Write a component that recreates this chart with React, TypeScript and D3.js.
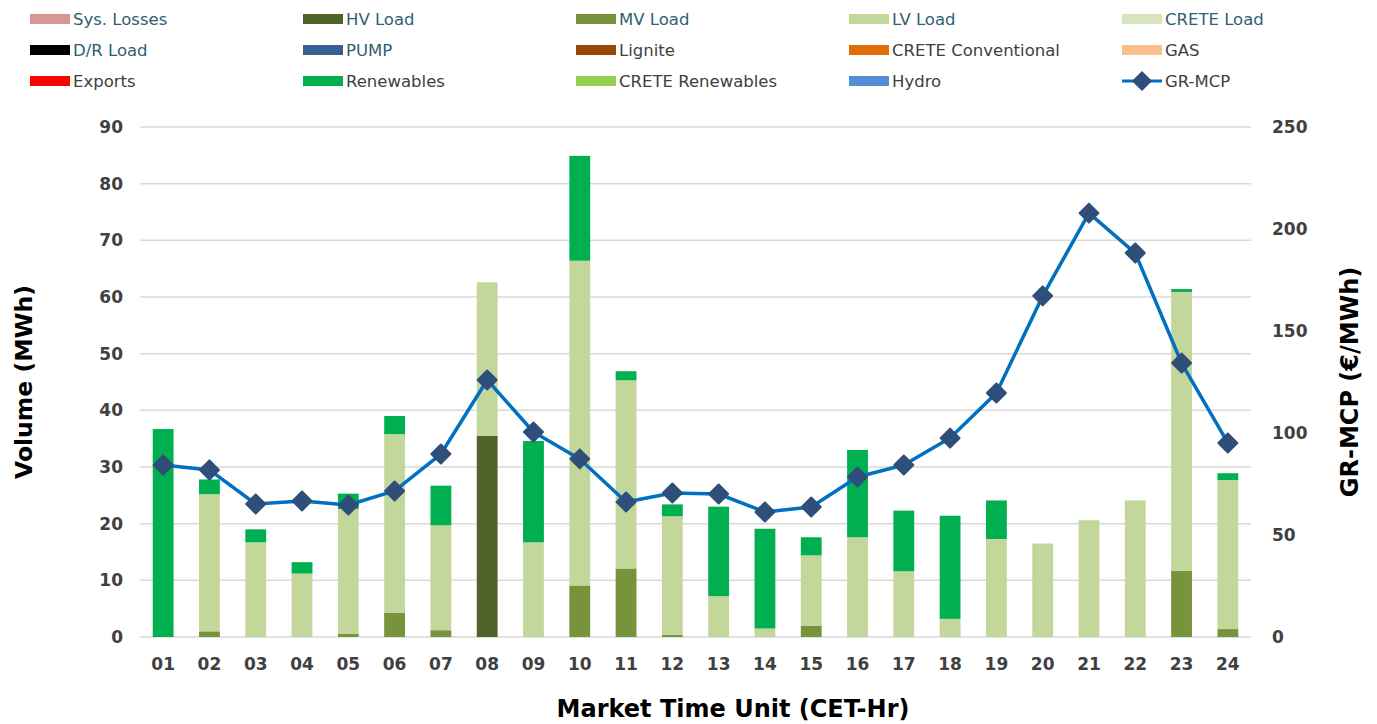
import React from "react";
import * as d3 from "d3";

const hours = ["01","02","03","04","05","06","07","08","09","10","11","12","13","14","15","16","17","18","19","20","21","22","23","24"];
const hvLoad = [0,0,0,0,0,0,0,35.5,0,0,0,0,0,0,0,0,0,0,0,0,0,0,0,0];
const mvLoad = [0,1.0,0,0,0.6,4.3,1.2,0,0,9.1,12.1,0.4,0,0,2.0,0,0,0,0,0,0,0,11.7,1.4];
const lvLoad = [0,24.2,16.7,11.2,22.0,31.5,18.5,27.1,16.7,57.3,33.2,20.9,7.2,1.5,12.4,17.6,11.6,3.2,17.3,16.5,20.6,24.1,49.2,26.3];
const renewables = [36.7,2.6,2.3,2.0,2.7,3.2,7.0,0,17.9,18.5,1.6,2.1,15.8,17.6,3.2,15.4,10.7,18.2,6.8,0,0,0,0.5,1.2];
const grMcp = [84.3,81.9,65.2,66.7,64.7,71.6,89.7,126,100.5,87.3,66.2,70.6,70.1,61.3,63.7,78.4,84.3,97.5,119.6,167.2,207.8,188.2,134.3,95.1];

const leftTicks = [0,10,20,30,40,50,60,70,80,90];
const rightTicks = [0,50,100,150,200,250];

const legendItems = [
  { name: "Sys. Losses", color: "#da9694", load: true },
  { name: "HV Load", color: "#4f6228", load: true },
  { name: "MV Load", color: "#77933c", load: true },
  { name: "LV Load", color: "#c4d79b", load: true },
  { name: "CRETE Load", color: "#d8e4bc", load: true },
  { name: "D/R Load", color: "#000000", load: true },
  { name: "PUMP", color: "#366092", load: true },
  { name: "Lignite", color: "#974706", load: false },
  { name: "CRETE Conventional", color: "#e26b0a", load: false },
  { name: "GAS", color: "#fabf8f", load: false },
  { name: "Exports", color: "#ff0000", load: false },
  { name: "Renewables", color: "#00b050", load: false },
  { name: "CRETE Renewables", color: "#92d050", load: false },
  { name: "Hydro", color: "#558ed5", load: false },
  { name: "GR-MCP", color: "#0070c0", load: false, line: true },
];

const stackSeries = [
  { key: "hv", values: hvLoad, color: "#4f6228" },
  { key: "mv", values: mvLoad, color: "#77933c" },
  { key: "lv", values: lvLoad, color: "#c4d79b" },
  { key: "ren", values: renewables, color: "#00b050" },
];

const FONT = "'DejaVu Sans', sans-serif";

export default function App() {
  const W = 1377, H = 724;
  const left = 140, right = 1251, top = 127, bottom = 637;

  const x = d3.scaleBand().domain(hours).range([left, right]).paddingInner(0.55).paddingOuter(0.275);
  const xc = (h: string) => (x(h) as number) + x.bandwidth() / 2;
  const yL = d3.scaleLinear().domain([0, 90]).range([bottom, top]);
  const yR = d3.scaleLinear().domain([0, 250]).range([bottom, top]);

  const rows = hours.map((h, i) => {
    const r: any = { h };
    stackSeries.forEach(s => (r[s.key] = s.values[i]));
    return r;
  });
  const stacked = d3.stack().keys(stackSeries.map(s => s.key))(rows);

  const line = d3.line<number>().x((_, i) => xc(hours[i])).y(d => yR(d));

  const diamond = (cx: number, cy: number, r: number) =>
    `M${cx},${cy - r}L${cx + r},${cy}L${cx},${cy + r}L${cx - r},${cy}Z`;

  const colX = [30, 303, 576, 849, 1122];
  const rowY = [19, 50, 81];

  return (
    <svg width={W} height={H} style={{ position: "absolute", left: 0, top: 0, background: "#fff" }}>
      {legendItems.map((it, i) => {
        const cx = colX[i % 5];
        const cy = rowY[Math.floor(i / 5)];
        return (
          <g key={it.name}>
            {it.line ? (
              <g>
                <line x1={cx} x2={cx + 40} y1={cy} y2={cy} stroke="#0070c0" strokeWidth={3} />
                <path d={diamond(cx + 20, cy, 9)} fill="#2f4f7a" stroke="#2f4f7a" strokeWidth={1.5} strokeLinejoin="round" />
              </g>
            ) : (
              <rect x={cx} y={cy - 5} width={40} height={10} fill={it.color} />
            )}
            <text x={cx + 43} y={cy} dy="0.35em" fontFamily={FONT} fontSize={16.5}
              fill={it.load ? "#2f5f70" : "#404040"}>{it.name}</text>
          </g>
        );
      })}

      {leftTicks.map(t => (
        <line key={t} x1={left} x2={right} y1={yL(t)} y2={yL(t)} stroke="#d9d9d9" strokeWidth={1.5} />
      ))}

      {stacked.map((layer, li) => (
        <g key={layer.key} fill={stackSeries[li].color}>
          {layer.map((d, i) => {
            const h = yL(d[0]) - yL(d[1]);
            if (h <= 0) return null;
            return <rect key={i} x={x(hours[i])} y={yL(d[1])} width={x.bandwidth()} height={h} />;
          })}
        </g>
      ))}

      <path d={line(grMcp) || ""} fill="none" stroke="#0070c0" strokeWidth={3.5} strokeLinejoin="round" />
      {grMcp.map((v, i) => (
        <path key={i} d={diamond(xc(hours[i]), yR(v), 9.5)} fill="#2f4f7a" stroke="#2f4f7a" strokeWidth={2} strokeLinejoin="round" />
      ))}

      {leftTicks.map(t => (
        <text key={t} x={123} y={yL(t)} dy="0.35em" textAnchor="end" fontFamily={FONT} fontWeight="bold" fontSize={17} fill="#404040">{t}</text>
      ))}
      {rightTicks.map(t => (
        <text key={t} x={1272} y={yR(t)} dy="0.35em" textAnchor="start" fontFamily={FONT} fontWeight="bold" fontSize={17} fill="#404040">{t}</text>
      ))}
      {hours.map(h => (
        <text key={h} x={xc(h)} y={664} dy="0.35em" textAnchor="middle" fontFamily={FONT} fontWeight="bold" fontSize={17} fill="#404040">{h}</text>
      ))}

      <text transform={`translate(24,${382}) rotate(-90)`} textAnchor="middle" dy="0.35em" fontFamily={FONT} fontWeight="bold" fontSize={23.5} fill="#000">Volume (MWh)</text>
      <text transform={`translate(1350,${382}) rotate(-90)`} textAnchor="middle" dy="0.35em" fontFamily={FONT} fontWeight="bold" fontSize={24} fill="#000">GR-MCP (€/MWh)</text>
      <text x={733} y={709} dy="0.35em" textAnchor="middle" fontFamily={FONT} fontWeight="bold" fontSize={24} fill="#000">Market Time Unit (CET-Hr)</text>
    </svg>
  );
}
